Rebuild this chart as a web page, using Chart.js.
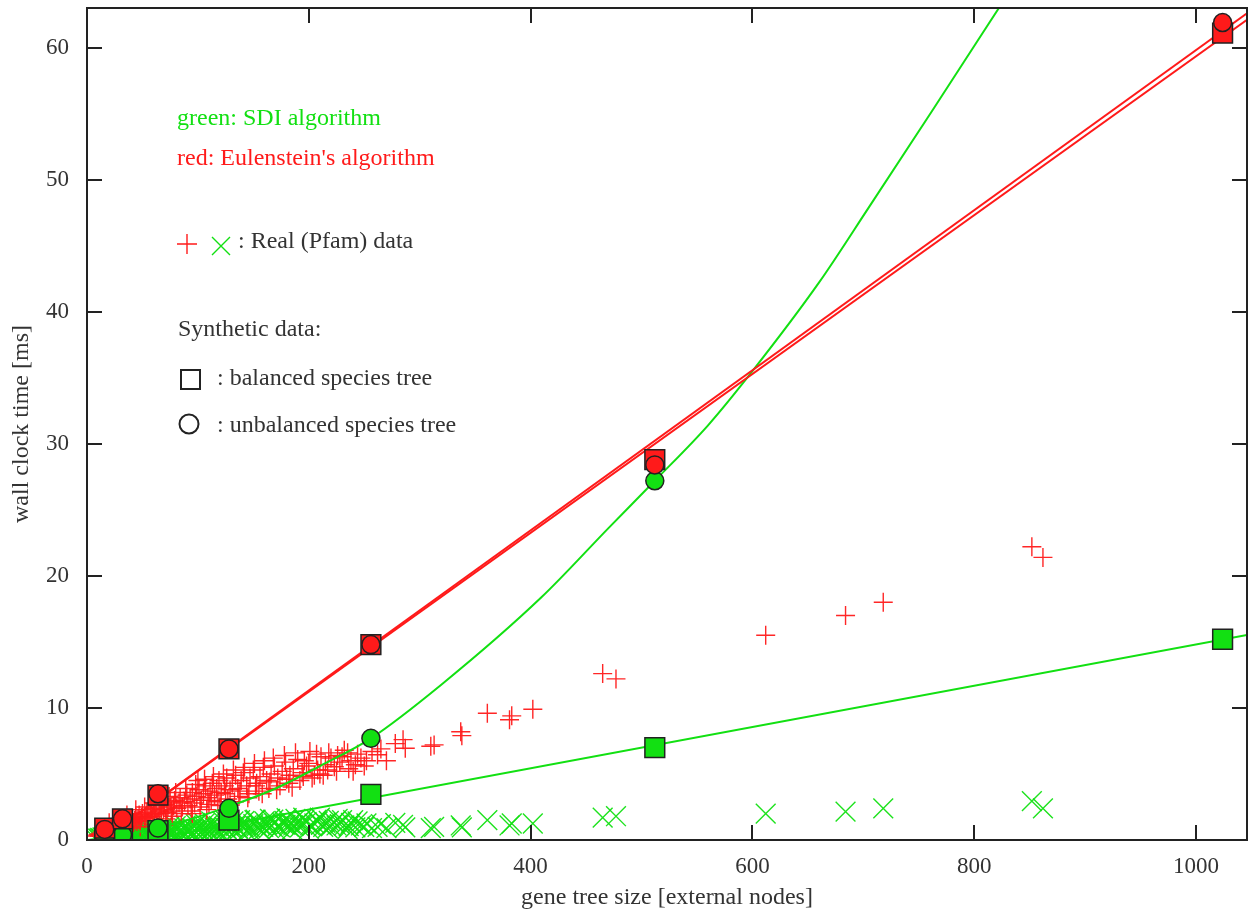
<!DOCTYPE html>
<html>
<head>
<meta charset="utf-8">
<script src="https://cdn.jsdelivr.net/npm/chart.js@4.4.1/dist/chart.umd.min.js"></script>
<style>
html,body{margin:0;padding:0;background:#fff;}
</style>
</head>
<body>
<canvas id="c" width="1250" height="913"></canvas>
<script>
/* ---------- axis ticks ---------- */
const xTicks = [0, 200, 400, 600, 800, 1000];
const yTicks = [0, 10, 20, 30, 40, 50, 60];

/* ---------- synthetic data (gene tree sizes) ---------- */
const synthSizes    = [16, 32, 64, 128, 256, 512, 1024];
const eulBalanced   = [0.9, 1.6, 3.4, 6.9, 14.8, 28.8, 61.1];
const eulUnbalanced = [0.8, 1.6, 3.5, 6.9, 14.8, 28.4, 61.9];
const sdiBalanced   = [0.15, 0.3, 0.7, 1.5, 3.45, 7.0, 15.2];
const sdiUnbalanced = [0.2, 0.4, 0.9, 2.4, 7.7, 27.2];   // 1024 is off the top

/* ---------- fitted curves ---------- */
const eulFitX          = [0, 1046];
const eulFitBalanced   = [-0.8, 62.1];
const eulFitUnbalanced = [-0.8, 62.6];
const sdiLinFitX       = [0, 1046];
const sdiLinFitY       = [-0.82, 15.53];
const sdiCurveX = [0, 40, 90, 130, 170, 210, 256, 320, 410, 470, 512, 560, 600, 660, 705, 762, 830];
const sdiCurveY = [0.0, 0.5, 1.5, 2.6, 3.9, 5.6, 7.7, 11.8, 18.4, 23.6, 27.2, 31.4, 35.5, 42.2, 47.9, 55.2, 64.0];

/* ---------- real (Pfam) data ---------- */
const pfamSizes = [
  8,10,11,12,13,14,15,16,17,18,19,20,21,22,23,24,25,26,27,28,29,30,
  31,32,33,34,35,36,37,38,39,40,41,42,43,44,45,46,47,48,49,50,52,53,
  54,55,57,58,59,61,62,63,65,66,67,69,70,72,73,75,76,78,79,81,83,84,
  86,88,90,91,93,95,97,99,101,103,105,107,109,111,113,115,117,119,121,124,
  126,129,131,134,136,139,141,144,147,150,153,156,159,162,166,169,172,176,
  179,183,186,190,194,198,201,205,208,211,215,220,223,228,232,238,242,247,
  252,257,262,285,287,310,313,337,338,361,381,383,402,465,477,612,684,718,852,862,
  20,25,28,33,36,40,44,48,52,56,60,64,68,71,74,77,80,85,89,94,98,102,
  106,110,114,118,123,127,132,137,142,146,151,155,160,164,168,174,178,182,188,192,
  196,203,207,213,218,225,230,236,244,250,265,270,278,
  95,100,108,112,120,125,133,138,145,152,158,165,171,180,185,195,200,210,217,226,235,240
];
const pfamEulenstein = [
  0.3,0.4,0.3,0.5,0.4,0.6,0.5,0.7,0.5,0.8,0.6,0.9,0.7,0.8,1.0,0.7,0.9,1.1,0.8,1.0,1.2,0.9,
  1.1,1.3,1.0,1.2,1.4,1.1,1.3,1.5,1.2,1.4,1.6,1.3,1.5,1.7,1.4,1.6,1.9,1.5,1.7,2.0,1.6,1.8,
  2.1,1.7,1.9,2.3,1.8,2.0,2.4,1.9,2.2,2.6,2.0,2.3,2.7,2.1,2.5,2.9,2.2,2.6,3.0,2.4,2.8,3.2,
  2.5,2.9,3.4,2.6,3.1,3.6,2.8,3.3,3.8,3.0,3.5,4.1,3.2,3.7,4.3,3.4,3.9,4.5,3.6,4.1,
  4.7,3.8,4.3,4.9,3.9,4.5,5.1,4.1,4.7,5.3,4.3,4.8,5.5,4.5,5.0,5.6,4.7,5.2,
  5.9,4.9,5.4,6.1,5.1,5.6,6.7,4.9,5.3,6.3,5.7,6.2,5.55,5.9,6.8,6.0,5.7,6.2,
  6.0,6.7,6.45,7.6,6.95,7.1,7.2,8.2,7.9,9.6,9.1,9.4,9.9,12.6,12.2,15.5,17.0,18.0,22.2,21.4,
  1.3,0.5,1.6,0.6,1.9,0.9,2.3,1.0,2.5,1.2,2.8,1.4,3.1,1.6,3.3,1.8,3.6,2.0,3.9,2.2,4.2,2.5,
  4.6,2.7,4.8,2.9,5.0,3.1,5.3,3.3,5.5,3.5,5.8,3.7,6.0,3.9,6.2,4.1,6.4,4.3,6.6,4.5,
  6.0,4.7,6.5,4.9,6.6,5.2,6.3,5.4,6.5,5.6,6.9,6.0,7.3,
  2.0,4.5,2.3,3.0,2.6,3.5,2.9,3.7,3.2,4.1,3.5,4.4,3.8,4.6,4.0,4.8,5.8,5.0,5.3,6.4,6.6,5.2
];
const pfamSdi = [
  0.05,0.1,0.1,0.15,0.1,0.2,0.1,0.2,0.15,0.2,0.2,0.25,0.15,0.3,0.2,0.25,0.3,0.2,0.3,0.35,0.25,0.3,
  0.4,0.3,0.35,0.4,0.3,0.45,0.35,0.4,0.3,0.45,0.4,0.5,0.35,0.45,0.5,0.4,0.55,0.45,0.5,0.4,0.55,0.45,
  0.6,0.5,0.55,0.45,0.6,0.5,0.65,0.55,0.6,0.5,0.7,0.6,0.55,0.7,0.6,0.75,0.6,0.7,0.65,0.8,0.6,0.75,
  0.7,0.85,0.65,0.8,0.75,0.9,0.7,0.85,0.8,0.95,0.75,0.9,0.85,1.0,0.8,0.95,0.85,1.05,0.9,1.0,
  0.85,1.1,0.95,1.05,0.9,1.15,1.0,1.1,0.95,1.2,1.05,1.15,1.0,1.2,1.1,1.25,1.05,1.3,
  1.15,1.25,1.1,1.3,1.2,1.35,1.1,1.25,1.4,1.15,1.3,1.05,1.35,1.2,1.1,1.3,0.95,1.1,
  1.25,0.9,1.0,1.15,0.95,0.9,1.0,1.1,0.95,1.5,1.1,1.25,1.25,1.7,1.8,2.0,2.15,2.4,2.95,2.4,
  0.5,0.1,0.6,0.15,0.7,0.2,0.8,0.25,0.85,0.3,0.9,0.35,0.95,0.3,1.0,0.4,1.05,0.45,1.1,0.5,1.2,0.55,
  1.25,0.6,1.3,0.65,1.35,0.7,1.4,0.75,1.45,0.8,1.5,0.85,1.4,0.9,1.55,0.95,1.45,1.0,1.6,0.95,
  1.5,1.05,1.55,1.0,1.45,1.1,1.5,1.05,1.4,1.0,1.2,0.9,1.3,
  0.3,1.3,0.5,1.4,0.4,1.45,0.6,1.5,0.55,1.55,0.65,1.6,0.7,1.65,0.8,1.7,0.85,1.7,0.9,1.6,0.85,1.5
];

/* ---------- colours ---------- */
const RED = '#ff1a1a';
const GREEN = '#12e012';
const EDGE = '#222';
const TEXT = '#333';
const SERIF = "'Liberation Serif', 'Times New Roman', serif";

function pts(xs, ys){
    return ys.map((y, i) => ({x: xs[i], y: y}));
}

/* ---------- frame, inward ticks and the hand-made key ---------- */
const framePlugin = {
    id: 'frame',
    afterDraw(chart){
        const ctx = chart.ctx;
        const xs = chart.scales.x, ys = chart.scales.y;
        const {left, right, top, bottom} = chart.chartArea;
        const tl = 15;

        ctx.save();
        ctx.strokeStyle = EDGE;
        ctx.lineWidth = 2;
        ctx.beginPath();
        xTicks.forEach(v => {
            const px = Math.round(xs.getPixelForValue(v));
            ctx.moveTo(px, bottom); ctx.lineTo(px, bottom - tl);
            ctx.moveTo(px, top); ctx.lineTo(px, top + tl);
        });
        yTicks.forEach(v => {
            const py = Math.round(ys.getPixelForValue(v));
            ctx.moveTo(left, py); ctx.lineTo(left + tl, py);
            ctx.moveTo(right, py); ctx.lineTo(right - tl, py);
        });
        ctx.stroke();
        ctx.strokeRect(left, top, right - left, bottom - top);

        // key
        const kx = left + 90, ky = top;
        ctx.font = '24px ' + SERIF;
        ctx.textBaseline = 'alphabetic';
        ctx.textAlign = 'left';
        ctx.fillStyle = GREEN;
        ctx.fillText('green: SDI algorithm', kx, ky + 117);
        ctx.fillStyle = RED;
        ctx.fillText("red: Eulenstein's algorithm", kx, ky + 157);

        ctx.strokeStyle = RED; ctx.lineWidth = 1.4;
        ctx.beginPath();
        ctx.moveTo(kx, ky + 236); ctx.lineTo(kx + 20, ky + 236);
        ctx.moveTo(kx + 10, ky + 226); ctx.lineTo(kx + 10, ky + 246);
        ctx.stroke();
        ctx.strokeStyle = GREEN;
        ctx.beginPath();
        ctx.moveTo(kx + 35, ky + 229); ctx.lineTo(kx + 53, ky + 247);
        ctx.moveTo(kx + 53, ky + 229); ctx.lineTo(kx + 35, ky + 247);
        ctx.stroke();

        ctx.fillStyle = TEXT;
        ctx.fillText(': Real (Pfam) data', kx + 61, ky + 240);
        ctx.fillText('Synthetic data:', kx + 1, ky + 328);

        ctx.strokeStyle = EDGE; ctx.lineWidth = 2;
        ctx.strokeRect(kx + 4, ky + 362, 19, 19);
        ctx.fillText(': balanced species tree', kx + 40, ky + 377);
        ctx.beginPath();
        ctx.arc(kx + 12, ky + 416, 9.5, 0, Math.PI * 2);
        ctx.stroke();
        ctx.fillText(': unbalanced species tree', kx + 40, ky + 424);
        ctx.restore();
    }
};

const tickFont = {family: SERIF, size: 23};
const titleFont = {family: SERIF, size: 24};

new Chart(document.getElementById('c'), {
    type: 'scatter',
    data: {
        datasets: [
            {label: 'SDI Pfam', data: pts(pfamSizes, pfamSdi), order: 9,
             pointStyle: 'crossRot', pointRadius: 14, pointBorderColor: 'rgba(18,224,18,0.95)',
             pointBackgroundColor: 'rgba(0,0,0,0)', pointBorderWidth: 1.4},
            {label: 'Eulenstein Pfam', data: pts(pfamSizes, pfamEulenstein), order: 8,
             pointStyle: 'cross', pointRadius: 9.5, pointBorderColor: 'rgba(255,26,26,0.95)',
             pointBackgroundColor: 'rgba(0,0,0,0)', pointBorderWidth: 1.4},
            {label: 'SDI balanced fit', data: pts(sdiLinFitX, sdiLinFitY), order: 7,
             showLine: true, pointRadius: 0, borderColor: GREEN, borderWidth: 2},
            {label: 'SDI unbalanced fit', data: pts(sdiCurveX, sdiCurveY), order: 6,
             showLine: true, pointRadius: 0, borderColor: GREEN, borderWidth: 2,
             cubicInterpolationMode: 'monotone'},
            {label: 'Eulenstein balanced fit', data: pts(eulFitX, eulFitBalanced), order: 5,
             showLine: true, pointRadius: 0, borderColor: RED, borderWidth: 2},
            {label: 'Eulenstein unbalanced fit', data: pts(eulFitX, eulFitUnbalanced), order: 4,
             showLine: true, pointRadius: 0, borderColor: RED, borderWidth: 2},
            {label: 'SDI balanced', data: pts(synthSizes, sdiBalanced), order: 3,
             pointStyle: 'rect', pointRadius: 14, pointBackgroundColor: GREEN,
             pointBorderColor: EDGE, pointBorderWidth: 1.5},
            {label: 'SDI unbalanced', data: pts(synthSizes, sdiUnbalanced), order: 2,
             pointStyle: 'circle', pointRadius: 9, pointBackgroundColor: GREEN,
             pointBorderColor: EDGE, pointBorderWidth: 1.5},
            {label: 'Eulenstein balanced', data: pts(synthSizes, eulBalanced), order: 1,
             pointStyle: 'rect', pointRadius: 14, pointBackgroundColor: RED,
             pointBorderColor: EDGE, pointBorderWidth: 1.5},
            {label: 'Eulenstein unbalanced', data: pts(synthSizes, eulUnbalanced), order: 0,
             pointStyle: 'circle', pointRadius: 9, pointBackgroundColor: RED,
             pointBorderColor: EDGE, pointBorderWidth: 1.5}
        ]
    },
    options: {
        responsive: false,
        animation: false,
        events: [],
        layout: {autoPadding: false, padding: {left: 0, right: 3, top: 8, bottom: 0}},
        plugins: {legend: {display: false}, tooltip: {enabled: false}},
        scales: {
            x: {
                type: 'linear', min: 0, max: 1046,
                afterBuildTicks: s => { s.ticks = xTicks.map(v => ({value: v})); },
                afterFit: s => { s.height = 73; s.paddingLeft = 0; s.paddingRight = 0; },
                grid: {display: false, drawTicks: false},
                border: {display: false},
                ticks: {padding: 13, color: TEXT, font: tickFont, callback: v => String(v)},
                title: {display: true, text: 'gene tree size [external nodes]', color: TEXT,
                        font: titleFont, padding: {top: 0, bottom: 1}}
            },
            y: {
                type: 'linear', min: 0, max: 63,
                afterBuildTicks: s => { s.ticks = yTicks.map(v => ({value: v})); },
                afterFit: s => { s.width = 87; s.paddingTop = 0; s.paddingBottom = 0; },
                grid: {display: false, drawTicks: false},
                border: {display: false},
                ticks: {padding: 18, color: TEXT, font: tickFont, callback: v => String(v)},
                title: {display: true, text: 'wall clock time [ms]', color: TEXT,
                        font: titleFont, padding: {top: 7, bottom: 0}}
            }
        }
    },
    plugins: [framePlugin]
});
</script>
</body>
</html>
